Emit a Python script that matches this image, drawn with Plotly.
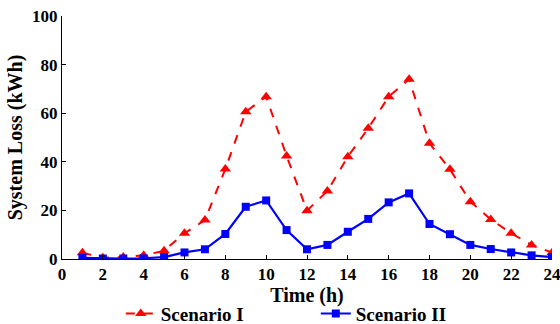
import plotly.graph_objects as go

hours = list(range(1, 25))
scenario_1 = [2.6, 0.5, 0.8, 1.5, 3.4, 10.6, 16.0, 37.0, 60.6, 66.8, 42.4, 19.9,
              28.0, 42.1, 53.8, 66.8, 74.0, 47.6, 36.9, 23.6, 16.3, 10.6, 5.8, 2.6]
scenario_2 = [0.5, 0.2, 0.2, 0.3, 0.8, 2.7, 4.0, 10.3, 21.5, 24.1, 11.9, 4.0,
              5.8, 11.2, 16.5, 23.3, 27.0, 14.4, 10.2, 5.8, 4.1, 2.7, 1.5, 0.8]
x_ticks = list(range(0, 25, 2))
y_ticks = [0, 20, 40, 60, 80, 100]

font_family = "Liberation Serif"

fig = go.Figure()
fig.add_trace(go.Scatter(
    x=hours, y=scenario_1, name="<b>Scenario I</b>", mode="lines+markers",
    line=dict(color="#ff0000", width=2, dash="dash"),
    marker=dict(symbol="triangle-up", size=10, color="#ff0000"),
))
fig.add_trace(go.Scatter(
    x=hours, y=scenario_2, name="<b>Scenario II</b>", mode="lines+markers",
    line=dict(color="#0000ff", width=2.2),
    marker=dict(symbol="square", size=8, color="#0000ff"),
))

axis_common = dict(
    showline=True, linecolor="black", linewidth=1, ticks="inside", ticklen=4,
    tickcolor="black", showgrid=False, zeroline=False, mirror=False,
    automargin=False, ticklabeloverflow="allow",
    tickfont=dict(family=font_family, size=17, color="black", weight="bold"),
)
fig.update_xaxes(range=[0, 24], tickvals=x_ticks,
                 title=dict(text="<b>Time (h)</b>", standoff=0,
                            font=dict(family=font_family, size=20, color="black")),
                 **axis_common)
fig.update_yaxes(range=[0, 100], tickvals=y_ticks,
                 title=dict(text="<b>System Loss (kWh)</b>", standoff=4,
                            font=dict(family=font_family, size=20, color="black")),
                 **axis_common)

fig.update_layout(
    width=560, height=324,
    margin=dict(l=62, r=8, t=16, b=65, autoexpand=False),
    plot_bgcolor="white", paper_bgcolor="white",
    font=dict(family=font_family, color="black"),
    legend=dict(orientation="h", x=0.12, xanchor="left", y=-0.225, yanchor="middle",
                font=dict(family=font_family, size=19, color="black"),
                entrywidth=150, bgcolor="rgba(0,0,0,0)"),
)

fig.write_html("out.html", config={"displayModeBar": False},
               post_script="document.body.style.margin='0';document.body.style.overflow='hidden';")
